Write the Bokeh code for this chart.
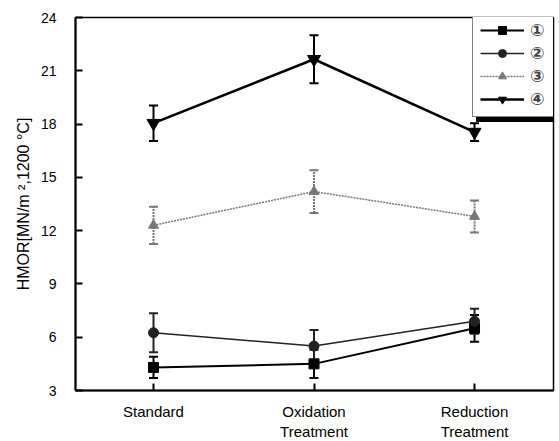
from bokeh.plotting import figure
from bokeh.models import (ColumnDataSource, Whisker, TeeHead, Legend, LegendItem,
                          FixedTicker, Range1d)
from bokeh.embed import file_html
from bokeh.resources import INLINE

categories = ["Standard", "Oxidation\nTreatment", "Reduction\nTreatment"]
xpos = [0, 1, 2]
series_names = ["①", "②", "③", "④"]
s1 = [4.3, 4.5, 6.5]
e1 = [0.6, 0.8, 0.75]
s2 = [6.25, 5.5, 6.9]
e2 = [1.1, 0.9, 0.7]
s3 = [12.3, 14.2, 12.8]
e3 = [1.05, 1.2, 0.9]
s4 = [18.05, 21.65, 17.55]
e4 = [1.0, 1.35, 0.5]
yticks = [3, 6, 9, 12, 15, 18, 21, 24]

FONT = "Liberation Sans"

p = figure(frame_width=478, frame_height=373, min_border_left=75, min_border_right=6,
           min_border_top=17, min_border_bottom=51,
           x_range=Range1d(-0.486, 2.492), y_range=Range1d(3, 24),
           output_backend="svg", toolbar_location=None)
p.background_fill_color = "white"
p.border_fill_color = "white"
p.outline_line_color = "black"
p.outline_line_width = 1.5
p.xgrid.visible = False
p.ygrid.visible = False

p.xaxis.ticker = FixedTicker(ticks=xpos)
p.xaxis.major_label_overrides = {x: c for x, c in zip(xpos, categories)}
p.yaxis.ticker = FixedTicker(ticks=yticks)
for ax in (p.xaxis[0], p.yaxis[0]):
    ax.axis_line_width = 2
    ax.axis_line_color = "black"
    ax.major_tick_in = 7
    ax.major_tick_out = 0
    ax.major_tick_line_width = 2
    ax.minor_tick_line_color = None
    ax.major_label_text_font = FONT
    ax.major_label_text_color = "black"
p.yaxis.major_label_text_font_size = "14px"
p.yaxis.major_label_standoff = 19
p.xaxis.major_label_text_font_size = "15px"
p.xaxis.major_label_standoff = 12
p.yaxis.axis_label = "HMOR[MN/m ²,1200 °C]"
p.yaxis.axis_label_text_font = FONT
p.yaxis.axis_label_text_font_style = "normal"
p.yaxis.axis_label_text_font_size = "16px"
p.yaxis.axis_label_text_color = "black"
p.yaxis.axis_label_standoff = 6

styles = [
    dict(color="black", lw=2, dash="solid", marker="square", size=10),
    dict(color="#222222", lw=1.5, dash="solid", marker="circle", size=10),
    dict(color="#777777", lw=1.5, dash="2 1", marker="triangle", size=10),
    dict(color="black", lw=2.5, dash="solid", marker="inverted_triangle", size=13),
]
data = [(s1, e1), (s2, e2), (s3, e3), (s4, e4)]

items_front = []
items_back = []
for name, (vals, errs), st in zip(series_names, data, styles):
    src = ColumnDataSource(dict(x=xpos, y=vals,
                                upper=[v + e for v, e in zip(vals, errs)],
                                lower=[v - e for v, e in zip(vals, errs)]))
    w = Whisker(base="x", upper="upper", lower="lower", source=src,
                line_color=st["color"], line_width=2, line_dash=st["dash"],
                upper_head=TeeHead(size=9, line_color=st["color"], line_width=2),
                lower_head=TeeHead(size=9, line_color=st["color"], line_width=2))
    p.add_layout(w)
    ln = p.line("x", "y", source=src, line_color=st["color"], line_width=st["lw"],
                line_dash=st["dash"])
    mk = p.scatter("x", "y", source=src, marker=st["marker"], size=st["size"],
                   fill_color=st["color"], line_color=st["color"])
    items_front.append(LegendItem(label=name, renderers=[ln, mk]))
    items_back.append(LegendItem(label=" ", renderers=[ln, mk]))

leg_kw = dict(glyph_width=44, glyph_height=20, label_height=20, label_width=17, spacing=3,
              padding=7, label_standoff=6, margin=0,
              label_text_font="DejaVu Sans", label_text_font_size="17px",
              label_text_font_style="bold")
shadow = Legend(items=items_back, location=(401, 268), background_fill_color="black",
                background_fill_alpha=1, border_line_color="black", **leg_kw)
front = Legend(items=items_front, location=(397, 273), background_fill_color="white",
               background_fill_alpha=1, border_line_color="black", border_line_width=1.5,
               **leg_kw)
p.add_layout(shadow)
p.add_layout(front)

open("out.html", "w").write(file_html(p, INLINE))
